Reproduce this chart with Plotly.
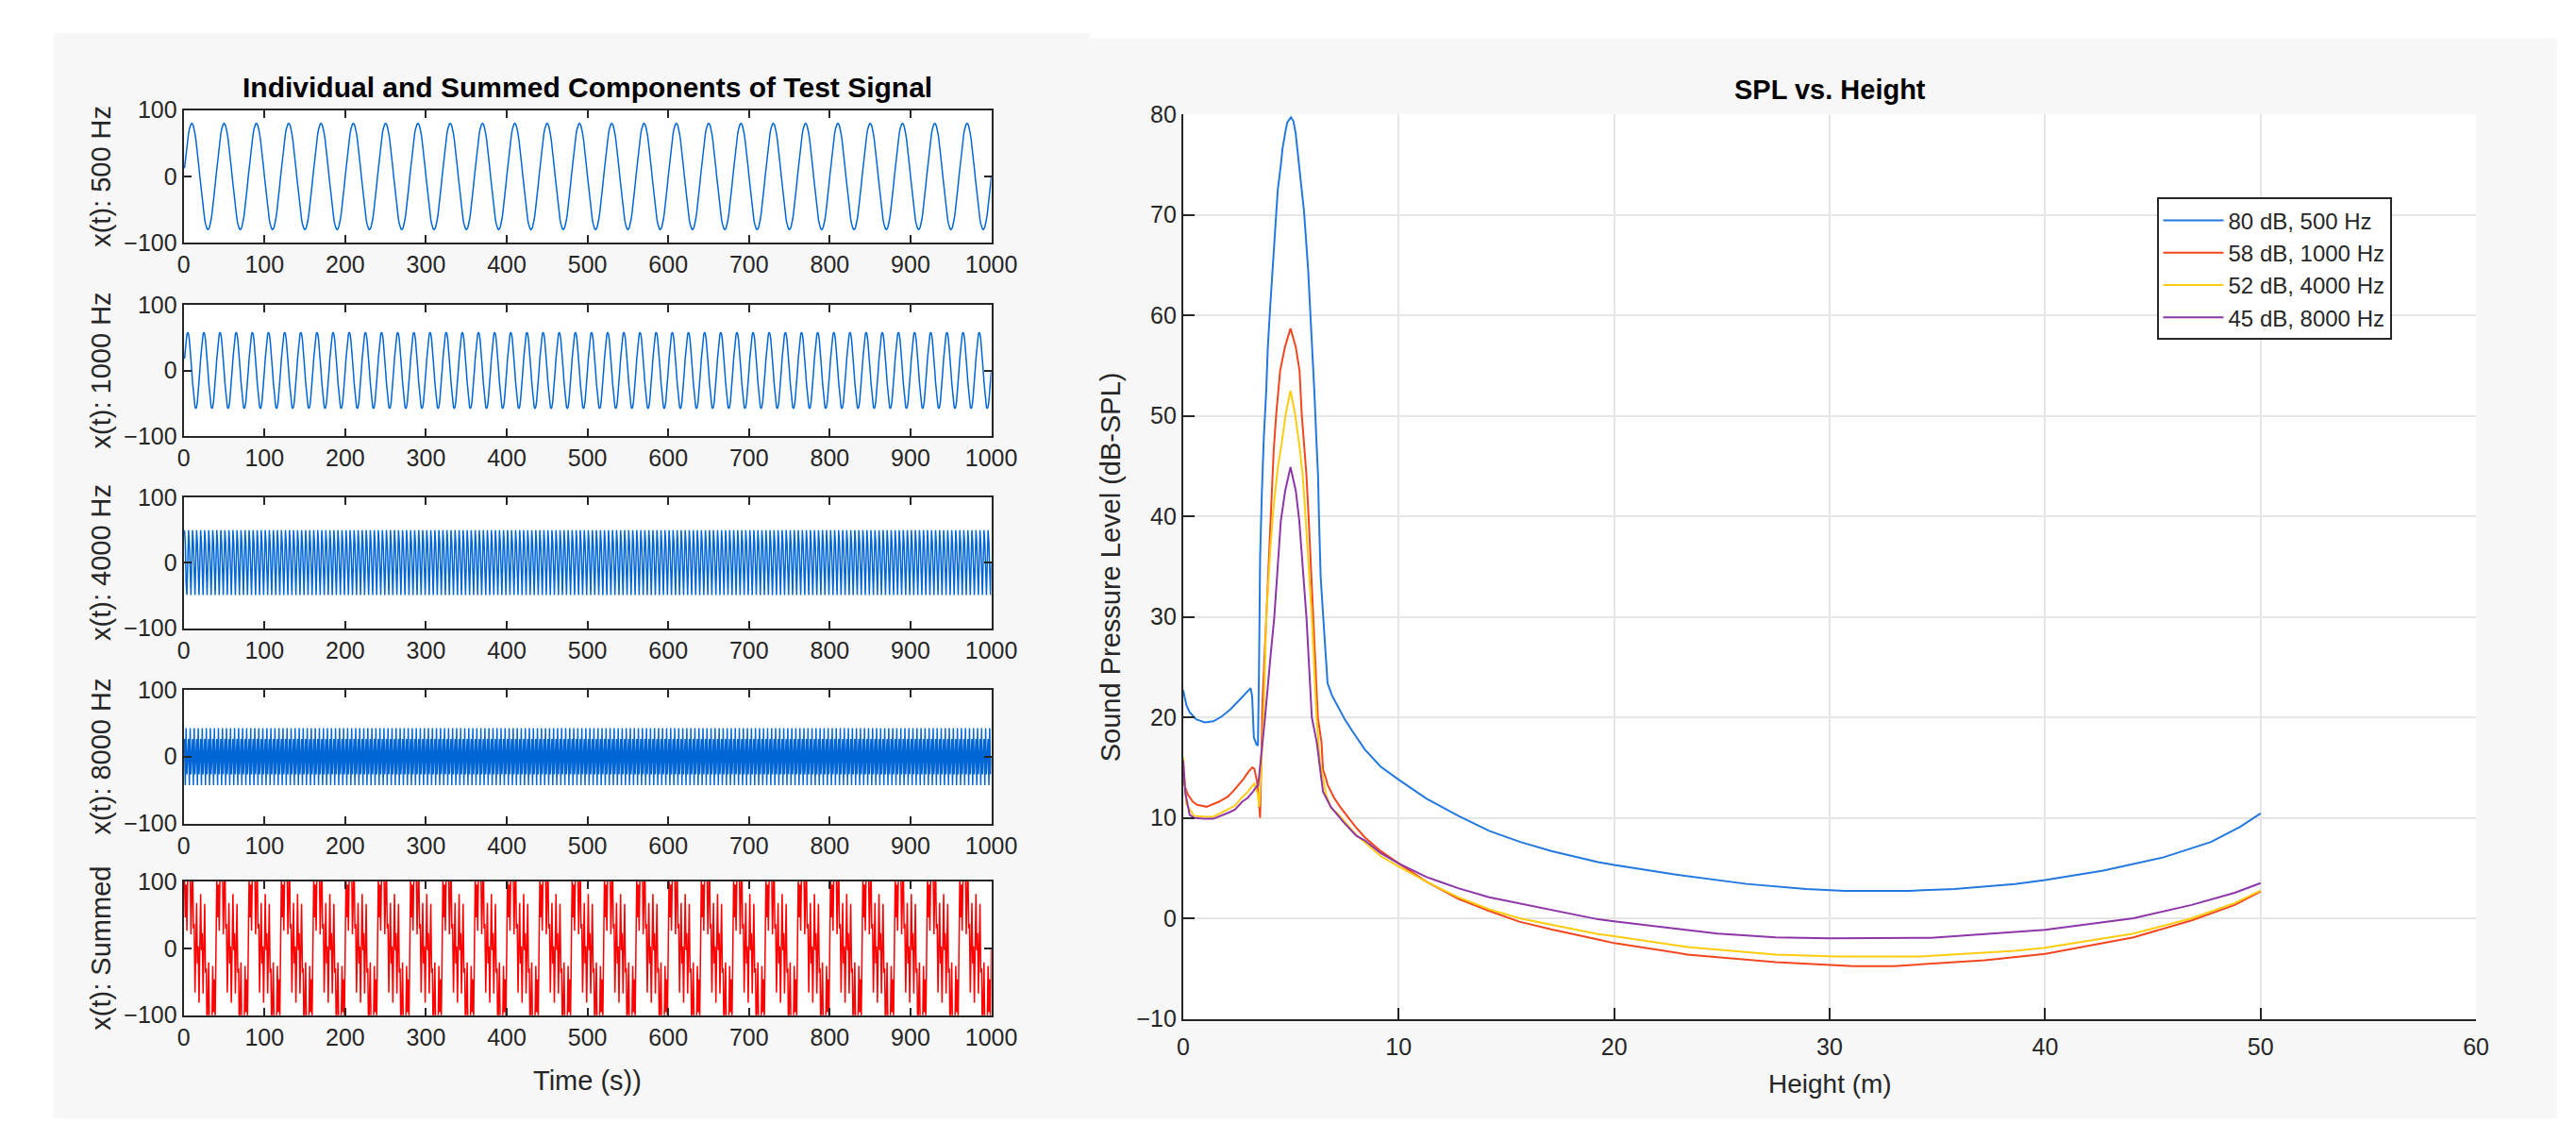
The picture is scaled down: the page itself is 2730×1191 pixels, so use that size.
import numpy as np
import plotly.graph_objects as go

W, H = 2730, 1191

# ---------------- Left panel: test signal components ----------------
SAMPLE_RATE = 20000          # samples per second (read: 500 Hz -> 40 samples/period)
N_SAMPLES = 1000
COMPONENT_FREQS = [500, 1000, 4000, 8000]     # Hz
COMPONENT_AMPS = [80, 58, 52, 45]             # peak amplitude
COMPONENT_LABELS = ["x(t): 500 Hz", "x(t): 1000 Hz", "x(t): 4000 Hz", "x(t): 8000 Hz"]
SUM_LABEL = "x(t): Summed"
LEFT_XTICKS = [0, 100, 200, 300, 400, 500, 600, 700, 800, 900, 1000]
LEFT_YTICKS = [-100, 0, 100]

# ---------------- Right panel: SPL vs height ----------------
SPL_NAMES = ["80 dB, 500 Hz", "58 dB, 1000 Hz", "52 dB, 4000 Hz", "45 dB, 8000 Hz"]

h_500 = [0, 0.15, 0.3, 0.6, 1.0, 1.4, 1.8, 2.2, 2.6, 2.9, 3.13, 3.2, 3.28, 3.4, 3.47,
         3.52, 3.57, 3.65, 3.74, 3.85, 3.93, 4.04, 4.15, 4.23, 4.31, 4.39, 4.53, 4.61,
         4.73, 4.83, 5.0, 5.12, 5.22, 5.39, 5.61, 5.8, 6.0, 6.09, 6.18, 6.26, 6.3, 6.38,
         6.49, 6.58, 6.7, 6.9, 7.14, 7.5, 7.86, 8.43, 9.16, 10.0, 11.3, 12.76, 14.2,
         15.64, 17.08, 19.25, 20.0, 22.8, 26.15, 28.9, 30.7, 33.7, 35.8, 38.6, 40.0,
         42.7, 45.5, 47.7, 49.05, 50.0]
spl_500 = [22.7, 21.2, 20.5, 19.8, 19.5, 19.6, 20.1, 20.8, 21.7, 22.4, 22.9, 22.1, 18.0,
           17.3, 17.2, 25.0, 35.9, 42.2, 47.7, 52.3, 56.9, 60.9, 64.5, 67.6, 70.3, 72.5,
           74.9, 76.6, 78.1, 79.2, 79.7, 79.3, 78.1, 74.9, 70.3, 64.5, 56.9, 52.3, 47.7,
           44.0, 40.0, 34.0, 30.3, 27.1, 23.4, 22.2, 21.2, 19.8, 18.6, 16.8, 15.1, 13.8,
           11.9, 10.2, 8.7, 7.6, 6.7, 5.6, 5.3, 4.37, 3.42, 2.92, 2.73, 2.73, 2.92, 3.4,
           3.8, 4.75, 6.07, 7.6, 9.1, 10.44]

h_1000 = [0, 0.1, 0.22, 0.45, 0.65, 1.08, 1.66, 2.07, 2.3, 2.81, 3.0, 3.2, 3.3, 3.42, 3.5,
          3.57, 3.62, 3.68, 3.86, 4.05, 4.12, 4.2, 4.32, 4.5, 4.73, 4.98, 5.22, 5.4, 5.5,
          5.72, 5.82, 6.05, 6.25, 6.42, 6.49, 6.63, 6.7, 7.0, 7.28, 7.71, 8.0, 8.43, 9.16,
          10.0, 11.3, 12.76, 14.2, 15.6, 17.08, 19.25, 20.0, 23.4, 27.5, 31.1, 33.0, 37.2,
          40.0, 44.1, 46.8, 48.8, 50.0]
spl_1000 = [13.9, 13.0, 12.3, 11.6, 11.3, 11.1, 11.6, 12.1, 12.6, 13.9, 14.5, 15.0, 14.9,
            13.7, 12.0, 10.0, 15.0, 21.5, 30.0, 40.0, 43.0, 46.5, 50.2, 54.5, 56.9, 58.7,
            56.9, 54.5, 50.2, 44.1, 40.0, 30.0, 20.0, 17.5, 14.8, 13.9, 13.3, 12.0, 11.1,
            9.9, 9.1, 8.06, 6.7, 5.46, 3.63, 1.95, 0.73, -0.34, -1.1, -2.1, -2.47, -3.6,
            -4.37, -4.75, -4.75, -4.18, -3.53, -1.9, -0.2, 1.33, 2.66]

h_4000 = [0, 0.07, 0.14, 0.5, 1.0, 1.4, 1.95, 2.4, 2.67, 3.0, 3.17, 3.3, 3.45, 3.53, 3.6,
          3.73, 3.86, 4.05, 4.2, 4.4, 4.56, 4.76, 4.98, 5.19, 5.39, 5.55, 5.66, 5.8, 5.97,
          6.19, 6.35, 6.42, 6.63, 6.88, 7.14, 8.0, 9.16, 10.0, 11.3, 12.76, 14.2, 15.6,
          17.08, 19.25, 20.0, 23.4, 27.5, 30.3, 34.2, 38.6, 40.0, 44.1, 46.8, 48.8, 50.0]
spl_4000 = [16.0, 13.0, 11.4, 10.2, 10.1, 10.1, 10.7, 11.2, 11.9, 12.6, 13.1, 13.4, 12.5,
            11.1, 14.0, 20.0, 30.0, 37.0, 41.0, 45.0, 47.1, 50.2, 52.5, 50.2, 47.1, 44.0,
            40.5, 36.0, 30.0, 20.0, 15.5, 14.8, 12.3, 10.9, 10.5, 8.36, 6.2, 5.16, 3.63,
            2.1, 0.9, 0.0, -0.64, -1.56, -1.78, -2.85, -3.6, -3.8, -3.8, -3.23, -2.92,
            -1.52, 0.0, 1.52, 2.77]

h_8000 = [0, 0.1, 0.3, 0.5, 1.0, 1.4, 2.09, 2.4, 2.74, 3.0, 3.24, 3.4, 3.48, 3.6, 3.8,
          4.05, 4.23, 4.53, 4.73, 4.98, 5.23, 5.39, 5.72, 5.97, 6.2, 6.34, 6.49, 6.85,
          7.43, 8.04, 8.43, 9.16, 10.0, 11.3, 12.76, 14.2, 15.6, 17.08, 19.25, 20.0, 24.8,
          27.5, 30.0, 34.7, 38.6, 40.0, 44.1, 46.8, 48.8, 50.0]
spl_8000 = [15.7, 12.5, 10.3, 10.0, 9.9, 9.9, 10.5, 10.8, 11.6, 12.0, 12.6, 13.1, 13.2,
            15.7, 20.0, 26.0, 30.0, 39.5, 42.5, 44.9, 42.5, 39.5, 30.0, 20.0, 17.5, 15.1,
            12.6, 11.1, 9.6, 8.2, 7.75, 6.5, 5.46, 4.1, 3.0, 2.1, 1.5, 0.9, -0.1, -0.3,
            -1.52, -1.9, -2.0, -1.94, -1.33, -1.14, 0.0, 1.33, 2.54, 3.5]

SPL_HEIGHTS = [h_500, h_1000, h_4000, h_8000]
SPL_VALUES = [spl_500, spl_1000, spl_4000, spl_8000]
RIGHT_XTICKS = [0, 10, 20, 30, 40, 50, 60]
RIGHT_YTICKS = [-10, 0, 10, 20, 30, 40, 50, 60, 70, 80]

# ---------------- styling ----------------
FONT = "Liberation Sans, Arial, Helvetica, sans-serif"
AX = "#262626"
LEFT_BLUE = "#0066d6"
LEFT_RED = "#ff0000"
SPL_COLORS = ["#2378e0", "#f2461e", "#ffcc11", "#8e35a8"]
BG = "#f7f7f7"


def px_x(p):
    return p / W


def px_y(p):
    return 1 - p / H


fig = go.Figure()

# signals
n = np.arange(1, N_SAMPLES + 1)
t = n / SAMPLE_RATE
components = [a * np.sin(2 * np.pi * f * t) for f, a in zip(COMPONENT_FREQS, COMPONENT_AMPS)]
summed = np.sum(components, axis=0)
left_series = components + [summed]
left_colors = [LEFT_BLUE] * 4 + [LEFT_RED]
left_labels = COMPONENT_LABELS + [SUM_LABEL]

left_tops = [97, 308, 517, 726, 934]
left_bots = [241, 451, 659, 871, 1079]
LX0, LX1 = 182, 1049
RX0, RX1, RY0, RY1 = 1255, 2643, 101.5, 1083

layout = dict(
    width=W, height=H, autosize=False,
    margin=dict(l=0, r=0, t=0, b=0),
    paper_bgcolor="white", plot_bgcolor="white",
    font=dict(family=FONT, color=AX),
    showlegend=True,
)

shapes = [
    dict(type="rect", xref="paper", yref="paper", x0=px_x(42), x1=px_x(1155),
         y0=0, y1=px_y(13), fillcolor=BG, line=dict(width=0), layer="below"),
    dict(type="rect", xref="paper", yref="paper", x0=px_x(1155), x1=1,
         y0=0, y1=px_y(19), fillcolor=BG, line=dict(width=0), layer="below"),
    dict(type="rect", xref="paper", yref="paper", x0=px_x(RX0), x1=px_x(RX1),
         y0=px_y(RY1), y1=px_y(RY0), fillcolor="white", line=dict(width=0), layer="below"),
]

annotations = []
for i, (ys, col, lab) in enumerate(zip(left_series, left_colors, left_labels)):
    k = i + 1
    xa = "x" if k == 1 else f"x{k}"
    ya = "y" if k == 1 else f"y{k}"
    fig.add_trace(go.Scatter(x=n, y=ys, mode="lines", line=dict(color=col, width=1.5),
                             xaxis=xa, yaxis=ya, showlegend=False, hoverinfo="skip"))
    layout[f"xaxis{'' if k == 1 else k}"] = dict(
        domain=[px_x(LX0), px_x(LX1)], anchor=ya, range=[0, 1000],
        tickvals=LEFT_XTICKS, ticks="inside", ticklen=8, tickwidth=2, tickcolor=AX,
        showline=True, linecolor=AX, linewidth=2, mirror="ticks", showgrid=False,
        zeroline=False, tickfont=dict(size=25, color=AX, family=FONT))
    layout[f"yaxis{'' if k == 1 else k}"] = dict(
        domain=[px_y(left_bots[i]), px_y(left_tops[i])], anchor=xa, range=[-100, 100],
        tickvals=LEFT_YTICKS, ticks="inside", ticklen=8, tickwidth=2, tickcolor=AX,
        showline=True, linecolor=AX, linewidth=2, mirror="ticks", showgrid=False,
        zeroline=False, tickfont=dict(size=25, color=AX, family=FONT))
    shapes.append(dict(type="rect", xref="paper", yref="paper", x0=px_x(LX0), x1=px_x(LX1),
                       y0=px_y(left_bots[i]), y1=px_y(left_tops[i]), fillcolor="white",
                       line=dict(width=0), layer="below"))
    annotations.append(dict(text=lab, x=px_x(93), y=px_y((left_tops[i] + left_bots[i]) / 2),
                            xref="paper", yref="paper", showarrow=False, textangle=-90,
                            xanchor="center", yanchor="middle",
                            font=dict(size=29, color=AX, family=FONT)))

annotations.append(dict(text="<b>Individual and Summed Components of Test Signal</b>",
                        x=px_x((LX0 + LX1) / 2), y=px_y(72), xref="paper", yref="paper",
                        showarrow=False, xanchor="center", yanchor="middle",
                        font=dict(size=30, color="#000000", family=FONT)))
annotations.append(dict(text="Time (s))", x=px_x((LX0 + LX1) / 2), y=px_y(1150),
                        xref="paper", yref="paper", showarrow=False,
                        xanchor="center", yanchor="middle",
                        font=dict(size=29, color=AX, family=FONT)))

# right panel
for j, (hh, vv, nm, col) in enumerate(zip(SPL_HEIGHTS, SPL_VALUES, SPL_NAMES, SPL_COLORS)):
    fig.add_trace(go.Scatter(x=hh, y=vv, mode="lines", name=nm, line=dict(color=col, width=2),
                             xaxis="x6", yaxis="y6", legendgroup=f"g{j}", hoverinfo="skip"))

layout["xaxis6"] = dict(domain=[px_x(RX0), px_x(RX1)], anchor="y6", range=[0, 60],
                        tickvals=RIGHT_XTICKS, ticks="inside", ticklen=12, tickwidth=2,
                        tickcolor=AX, showline=True, linecolor=AX, linewidth=2, mirror=False,
                        showgrid=True, gridcolor="#e6e6e6", gridwidth=1.5, zeroline=False,
                        ticklabelstandoff=6,
                        tickfont=dict(size=25, color=AX, family=FONT))
layout["yaxis6"] = dict(domain=[px_y(RY1), px_y(RY0)], anchor="x6", range=[-10, 80],
                        tickvals=RIGHT_YTICKS, ticks="inside", ticklen=12, tickwidth=2,
                        tickcolor=AX, showline=True, linecolor=AX, linewidth=2, mirror=False,
                        showgrid=True, gridcolor="#e6e6e6", gridwidth=1.5, zeroline=False,
                        tickfont=dict(size=25, color=AX, family=FONT))

annotations.append(dict(text="<b>SPL vs. Height</b>", x=px_x((RX0 + RX1) / 2), y=px_y(75),
                        xref="paper", yref="paper", showarrow=False,
                        xanchor="center", yanchor="middle",
                        font=dict(size=29, color="#000000", family=FONT)))
annotations.append(dict(text="Height (m)", x=px_x((RX0 + RX1) / 2), y=px_y(1154),
                        xref="paper", yref="paper", showarrow=False,
                        xanchor="center", yanchor="middle",
                        font=dict(size=28, color=AX, family=FONT)))
annotations.append(dict(text="Sound Pressure Level (dB-SPL)", x=px_x(1177),
                        y=px_y((RY0 + RY1) / 2), xref="paper", yref="paper",
                        showarrow=False, textangle=-90, xanchor="center", yanchor="middle",
                        font=dict(size=29, color=AX, family=FONT)))

layout["annotations"] = annotations
layout["shapes"] = shapes
layout["legend"] = dict(x=px_x(2300), y=px_y(192), xanchor="left", yanchor="top",
                        bgcolor="white", bordercolor=AX, borderwidth=2,
                        font=dict(size=24, color=AX, family=FONT),
                        itemwidth=64, tracegroupgap=0, traceorder="normal")

fig.update_layout(**layout)
fig.write_html("out.html")
